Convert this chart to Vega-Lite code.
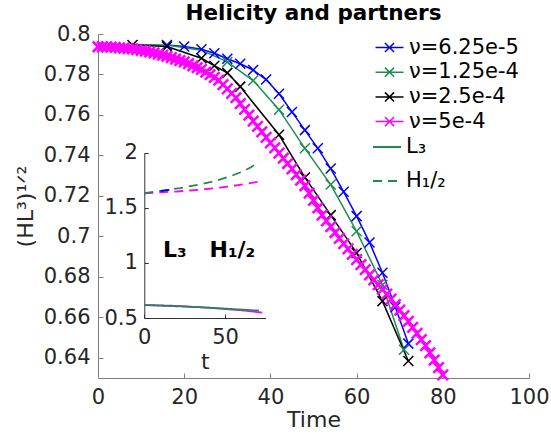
{
  "$schema": "https://vega.github.io/schema/vega-lite/v6.json",
  "width": 431,
  "height": 344,
  "autosize": {"type": "none"},
  "padding": {"left": 98, "top": 34, "right": 22, "bottom": 57},
  "background": "white",
  "config": {"font": "DejaVu Sans", "view": {"stroke": null}, "axis": {"grid": false}},
  "title": {"text": "Helicity and partners", "fontSize": 21.5, "fontWeight": "bold", "color": "black", "anchor": "middle", "baseline": "alphabetic", "offset": 3, "dy": 21},
  "datasets": {
    "main": [
      {"s": "ν=6.25e-5", "t": 16, "v": 0.7946, "m": 1},
      {"s": "ν=6.25e-5", "t": 20, "v": 0.7938, "m": 1},
      {"s": "ν=6.25e-5", "t": 24, "v": 0.7925, "m": 1},
      {"s": "ν=6.25e-5", "t": 27, "v": 0.7905, "m": 1},
      {"s": "ν=6.25e-5", "t": 30, "v": 0.7878, "m": 1},
      {"s": "ν=6.25e-5", "t": 33, "v": 0.7853, "m": 1},
      {"s": "ν=6.25e-5", "t": 36, "v": 0.7822, "m": 1},
      {"s": "ν=6.25e-5", "t": 39, "v": 0.7775, "m": 1},
      {"s": "ν=6.25e-5", "t": 42, "v": 0.7705, "m": 1},
      {"s": "ν=6.25e-5", "t": 45, "v": 0.7615, "m": 1},
      {"s": "ν=6.25e-5", "t": 48, "v": 0.7525, "m": 1},
      {"s": "ν=6.25e-5", "t": 51, "v": 0.7435, "m": 1},
      {"s": "ν=6.25e-5", "t": 54, "v": 0.7335, "m": 1},
      {"s": "ν=6.25e-5", "t": 57, "v": 0.722, "m": 1},
      {"s": "ν=6.25e-5", "t": 60, "v": 0.71, "m": 1},
      {"s": "ν=6.25e-5", "t": 63, "v": 0.697, "m": 1},
      {"s": "ν=6.25e-5", "t": 66, "v": 0.682, "m": 1},
      {"s": "ν=6.25e-5", "t": 69, "v": 0.665, "m": 1},
      {"s": "ν=6.25e-5", "t": 72, "v": 0.647, "m": 1},
      {"s": "ν=1.25e-4", "t": 8, "v": 0.7948, "m": 0},
      {"s": "ν=1.25e-4", "t": 16, "v": 0.7946, "m": 0},
      {"s": "ν=1.25e-4", "t": 24, "v": 0.792, "m": 0},
      {"s": "ν=1.25e-4", "t": 30, "v": 0.7862, "m": 1},
      {"s": "ν=1.25e-4", "t": 36, "v": 0.777, "m": 1},
      {"s": "ν=1.25e-4", "t": 42, "v": 0.7626, "m": 1},
      {"s": "ν=1.25e-4", "t": 48, "v": 0.7435, "m": 1},
      {"s": "ν=1.25e-4", "t": 54, "v": 0.7256, "m": 1},
      {"s": "ν=1.25e-4", "t": 60, "v": 0.7025, "m": 1},
      {"s": "ν=1.25e-4", "t": 66, "v": 0.676, "m": 1},
      {"s": "ν=1.25e-4", "t": 71, "v": 0.644, "m": 1},
      {"s": "ν=2.5e-4", "t": 8, "v": 0.7946, "m": 1},
      {"s": "ν=2.5e-4", "t": 16, "v": 0.7938, "m": 1},
      {"s": "ν=2.5e-4", "t": 24, "v": 0.788, "m": 1},
      {"s": "ν=2.5e-4", "t": 27, "v": 0.7843, "m": 1},
      {"s": "ν=2.5e-4", "t": 30, "v": 0.7808, "m": 1},
      {"s": "ν=2.5e-4", "t": 33, "v": 0.774, "m": 1},
      {"s": "ν=2.5e-4", "t": 42, "v": 0.7502, "m": 1},
      {"s": "ν=2.5e-4", "t": 48, "v": 0.7291, "m": 1},
      {"s": "ν=2.5e-4", "t": 54, "v": 0.7105, "m": 1},
      {"s": "ν=2.5e-4", "t": 60, "v": 0.6918, "m": 1},
      {"s": "ν=2.5e-4", "t": 66, "v": 0.668, "m": 1},
      {"s": "ν=2.5e-4", "t": 72, "v": 0.6384, "m": 1},
      {"s": "ν=5e-4", "t": 0, "v": 0.7937, "m": 1},
      {"s": "ν=5e-4", "t": 1, "v": 0.7937, "m": 1},
      {"s": "ν=5e-4", "t": 2, "v": 0.7936, "m": 1},
      {"s": "ν=5e-4", "t": 3, "v": 0.7935, "m": 1},
      {"s": "ν=5e-4", "t": 4, "v": 0.7934, "m": 1},
      {"s": "ν=5e-4", "t": 5, "v": 0.7932, "m": 1},
      {"s": "ν=5e-4", "t": 6, "v": 0.793, "m": 1},
      {"s": "ν=5e-4", "t": 7, "v": 0.7928, "m": 1},
      {"s": "ν=5e-4", "t": 8, "v": 0.7926, "m": 1},
      {"s": "ν=5e-4", "t": 9, "v": 0.7923, "m": 1},
      {"s": "ν=5e-4", "t": 10, "v": 0.7919, "m": 1},
      {"s": "ν=5e-4", "t": 11, "v": 0.7916, "m": 1},
      {"s": "ν=5e-4", "t": 12, "v": 0.7912, "m": 1},
      {"s": "ν=5e-4", "t": 13, "v": 0.7907, "m": 1},
      {"s": "ν=5e-4", "t": 14, "v": 0.7901, "m": 1},
      {"s": "ν=5e-4", "t": 15, "v": 0.7896, "m": 1},
      {"s": "ν=5e-4", "t": 16, "v": 0.789, "m": 1},
      {"s": "ν=5e-4", "t": 17, "v": 0.7883, "m": 1},
      {"s": "ν=5e-4", "t": 18, "v": 0.7876, "m": 1},
      {"s": "ν=5e-4", "t": 19, "v": 0.7869, "m": 1},
      {"s": "ν=5e-4", "t": 20, "v": 0.7862, "m": 1},
      {"s": "ν=5e-4", "t": 21, "v": 0.7853, "m": 1},
      {"s": "ν=5e-4", "t": 22, "v": 0.7843, "m": 1},
      {"s": "ν=5e-4", "t": 23, "v": 0.7834, "m": 1},
      {"s": "ν=5e-4", "t": 24, "v": 0.7825, "m": 1},
      {"s": "ν=5e-4", "t": 25, "v": 0.7812, "m": 1},
      {"s": "ν=5e-4", "t": 26, "v": 0.7799, "m": 1},
      {"s": "ν=5e-4", "t": 27, "v": 0.7786, "m": 1},
      {"s": "ν=5e-4", "t": 28, "v": 0.7772, "m": 1},
      {"s": "ν=5e-4", "t": 29, "v": 0.775, "m": 1},
      {"s": "ν=5e-4", "t": 30, "v": 0.7729, "m": 1},
      {"s": "ν=5e-4", "t": 31, "v": 0.7707, "m": 1},
      {"s": "ν=5e-4", "t": 32, "v": 0.7685, "m": 1},
      {"s": "ν=5e-4", "t": 33, "v": 0.7656, "m": 1},
      {"s": "ν=5e-4", "t": 34, "v": 0.7628, "m": 1},
      {"s": "ν=5e-4", "t": 35, "v": 0.7599, "m": 1},
      {"s": "ν=5e-4", "t": 36, "v": 0.757, "m": 1},
      {"s": "ν=5e-4", "t": 37, "v": 0.7543, "m": 1},
      {"s": "ν=5e-4", "t": 38, "v": 0.7516, "m": 1},
      {"s": "ν=5e-4", "t": 39, "v": 0.7489, "m": 1},
      {"s": "ν=5e-4", "t": 40, "v": 0.7462, "m": 1},
      {"s": "ν=5e-4", "t": 41, "v": 0.7437, "m": 1},
      {"s": "ν=5e-4", "t": 42, "v": 0.7411, "m": 1},
      {"s": "ν=5e-4", "t": 43, "v": 0.7386, "m": 1},
      {"s": "ν=5e-4", "t": 44, "v": 0.736, "m": 1},
      {"s": "ν=5e-4", "t": 45, "v": 0.7333, "m": 1},
      {"s": "ν=5e-4", "t": 46, "v": 0.7305, "m": 1},
      {"s": "ν=5e-4", "t": 47, "v": 0.7278, "m": 1},
      {"s": "ν=5e-4", "t": 48, "v": 0.725, "m": 1},
      {"s": "ν=5e-4", "t": 49, "v": 0.7214, "m": 1},
      {"s": "ν=5e-4", "t": 50, "v": 0.7178, "m": 1},
      {"s": "ν=5e-4", "t": 51, "v": 0.7141, "m": 1},
      {"s": "ν=5e-4", "t": 52, "v": 0.7105, "m": 1},
      {"s": "ν=5e-4", "t": 53, "v": 0.7076, "m": 1},
      {"s": "ν=5e-4", "t": 54, "v": 0.7048, "m": 1},
      {"s": "ν=5e-4", "t": 55, "v": 0.7019, "m": 1},
      {"s": "ν=5e-4", "t": 56, "v": 0.699, "m": 1},
      {"s": "ν=5e-4", "t": 57, "v": 0.6964, "m": 1},
      {"s": "ν=5e-4", "t": 58, "v": 0.6938, "m": 1},
      {"s": "ν=5e-4", "t": 59, "v": 0.6911, "m": 1},
      {"s": "ν=5e-4", "t": 60, "v": 0.6885, "m": 1},
      {"s": "ν=5e-4", "t": 61, "v": 0.686, "m": 1},
      {"s": "ν=5e-4", "t": 62, "v": 0.6835, "m": 1},
      {"s": "ν=5e-4", "t": 63, "v": 0.681, "m": 1},
      {"s": "ν=5e-4", "t": 64, "v": 0.6785, "m": 1},
      {"s": "ν=5e-4", "t": 65, "v": 0.6761, "m": 1},
      {"s": "ν=5e-4", "t": 66, "v": 0.6738, "m": 1},
      {"s": "ν=5e-4", "t": 67, "v": 0.6714, "m": 1},
      {"s": "ν=5e-4", "t": 68, "v": 0.669, "m": 1},
      {"s": "ν=5e-4", "t": 69, "v": 0.6663, "m": 1},
      {"s": "ν=5e-4", "t": 70, "v": 0.6635, "m": 1},
      {"s": "ν=5e-4", "t": 71, "v": 0.6608, "m": 1},
      {"s": "ν=5e-4", "t": 72, "v": 0.658, "m": 1},
      {"s": "ν=5e-4", "t": 73, "v": 0.655, "m": 1},
      {"s": "ν=5e-4", "t": 74, "v": 0.652, "m": 1},
      {"s": "ν=5e-4", "t": 75, "v": 0.649, "m": 1},
      {"s": "ν=5e-4", "t": 76, "v": 0.646, "m": 1},
      {"s": "ν=5e-4", "t": 77, "v": 0.6424, "m": 1},
      {"s": "ν=5e-4", "t": 78, "v": 0.6388, "m": 1},
      {"s": "ν=5e-4", "t": 79, "v": 0.6351, "m": 1},
      {"s": "ν=5e-4", "t": 80, "v": 0.6315, "m": 1}
    ],
    "inset": [
      {"s": "ν=5e-4", "k": "H₁/₂", "t": 0, "v": 1.632},
      {"s": "ν=5e-4", "k": "H₁/₂", "t": 10, "v": 1.64},
      {"s": "ν=5e-4", "k": "H₁/₂", "t": 20, "v": 1.648},
      {"s": "ν=5e-4", "k": "H₁/₂", "t": 35, "v": 1.665},
      {"s": "ν=5e-4", "k": "H₁/₂", "t": 53, "v": 1.694},
      {"s": "ν=5e-4", "k": "H₁/₂", "t": 71, "v": 1.738},
      {"s": "ν=5e-4", "k": "L₃", "t": 0, "v": 0.618},
      {"s": "ν=5e-4", "k": "L₃", "t": 20, "v": 0.61},
      {"s": "ν=5e-4", "k": "L₃", "t": 40, "v": 0.593},
      {"s": "ν=5e-4", "k": "L₃", "t": 60, "v": 0.57},
      {"s": "ν=5e-4", "k": "L₃", "t": 73, "v": 0.549},
      {"s": "ν=1.25e-4", "k": "H₁/₂", "t": 0, "v": 1.632},
      {"s": "ν=1.25e-4", "k": "H₁/₂", "t": 11, "v": 1.655},
      {"s": "ν=1.25e-4", "k": "H₁/₂", "t": 22, "v": 1.679},
      {"s": "ν=1.25e-4", "k": "H₁/₂", "t": 33, "v": 1.709},
      {"s": "ν=1.25e-4", "k": "H₁/₂", "t": 43, "v": 1.74},
      {"s": "ν=1.25e-4", "k": "H₁/₂", "t": 53, "v": 1.785},
      {"s": "ν=1.25e-4", "k": "H₁/₂", "t": 61, "v": 1.83},
      {"s": "ν=1.25e-4", "k": "H₁/₂", "t": 66, "v": 1.868},
      {"s": "ν=1.25e-4", "k": "H₁/₂", "t": 71, "v": 1.918},
      {"s": "ν=1.25e-4", "k": "L₃", "t": 0, "v": 0.618},
      {"s": "ν=1.25e-4", "k": "L₃", "t": 36, "v": 0.597},
      {"s": "ν=1.25e-4", "k": "L₃", "t": 71, "v": 0.567},
      {"s": "ν=6.25e-5", "k": "H₁/₂", "t": 10, "v": 1.652},
      {"s": "ν=6.25e-5", "k": "H₁/₂", "t": 16, "v": 1.664}
    ]
  },
  "layer": [
    {
      "data": {"name": "main"},
      "encoding": {
        "x": {"field": "t", "type": "quantitative",
          "scale": {"domain": [0, 100], "nice": false, "zero": false},
          "axis": {"orient": "bottom", "values": [0, 20, 40, 60, 80, 100], "title": "Time",
            "titleFontSize": 22, "titleFontWeight": "normal", "titleColor": "#262626", "titlePadding": 2,
            "labelFontSize": 21, "labelColor": "#262626", "labelPadding": 13, "labelFlush": false, "labelOverlap": false,
            "tickSize": -5, "tickColor": "#808080", "domainColor": "#808080"}},
        "y": {"field": "v", "type": "quantitative",
          "scale": {"domain": [0.63, 0.8], "nice": false, "zero": false},
          "axis": {"orient": "left", "values": [0.64, 0.66, 0.68, 0.7, 0.72, 0.74, 0.76, 0.78, 0.8], "format": ".2~f",
            "title": "(HL³)¹ᐟ²", "titleFontSize": 22, "titleFontWeight": "normal", "titleColor": "#262626", "titlePadding": 6,
            "labelFontSize": 21, "labelColor": "#262626", "labelPadding": 13, "labelFlush": false, "labelOverlap": false,
            "tickSize": -5, "tickColor": "#808080", "domainColor": "#808080"}},
        "color": {"field": "s", "type": "nominal",
          "scale": {"domain": ["ν=6.25e-5", "ν=1.25e-4", "ν=2.5e-4", "ν=5e-4"], "range": ["#0000ff", "#1e8c50", "#000000", "#ff00ff"]},
          "legend": {"orient": "none", "legendX": 281, "legendY": 3, "title": null, "padding": 0,
            "symbolType": "M-2,0H2M-0.65,-0.65L0.65,0.65M-0.65,0.65L0.65,-0.65", "symbolSize": 196,
            "symbolStrokeWidth": 1.5, "symbolFillColor": "transparent",
            "labelFontSize": 21, "labelColor": "black", "labelOffset": 9, "rowPadding": 2.7, "labelLimit": 300}}
      },
      "layer": [
        {"mark": {"type": "line", "strokeWidth": 1.5}},
        {"transform": [{"filter": "datum.m == 1 && datum.s != 'ν=5e-4'"}],
          "mark": {"type": "point", "shape": "M-1,-1L1,1M-1,1L1,-1", "filled": false, "size": 100, "opacity": 1, "strokeWidth": 1.5}},
        {"transform": [{"filter": "datum.s == 'ν=5e-4'"}],
          "mark": {"type": "point", "shape": "M-1,-1L1,1M-1,1L1,-1", "filled": false, "size": 110, "opacity": 1, "strokeWidth": 2.5}}
      ]
    },
    {
      "data": {"name": "inset"},
      "encoding": {
        "x": {"field": "t", "type": "quantitative",
          "scale": {"domain": [0, 75], "range": [46.3, 167.5], "nice": false, "zero": false},
          "axis": {"orient": "bottom", "offset": -60, "values": [0, 50], "title": "t",
            "titleFontSize": 22, "titleFontWeight": "normal", "titleColor": "#262626", "titlePadding": 4,
            "labelFontSize": 21, "labelColor": "#262626", "labelPadding": 12, "labelFlush": false, "labelOverlap": false,
            "tickSize": -4, "tickColor": "#333333", "domainColor": "#333333"}},
        "y": {"field": "v", "type": "quantitative",
          "scale": {"domain": [0.5, 2], "range": [284, 118.7], "nice": false, "zero": false},
          "axis": {"orient": "left", "offset": -46.3, "values": [0.5, 1, 1.5, 2], "format": "~g", "title": null,
            "labelFontSize": 21, "labelColor": "#262626", "labelPadding": 11, "labelFlush": false, "labelOverlap": false,
            "tickSize": -4, "tickColor": "#333333", "domainColor": "#333333"}}
      },
      "layer": [
        {"mark": {"type": "line", "strokeWidth": 1.8},
          "encoding": {
            "color": {"field": "s", "type": "nominal"},
            "strokeDash": {"field": "k", "type": "nominal",
              "scale": {"domain": ["L₃", "H₁/₂"], "range": [[1, 0], [9, 6]]},
              "legend": {"orient": "none", "legendX": 274, "legendY": 98, "title": null, "padding": 0,
                "symbolType": "stroke", "symbolSize": 784, "symbolStrokeColor": "#1e8c50", "symbolStrokeWidth": 1.8,
                "labelFontSize": 21, "labelColor": "black", "labelOffset": 4, "rowPadding": 9}}
          }},
        {"transform": [{"filter": "datum.t == 0 && datum.k == 'L₃' && datum.s == 'ν=1.25e-4'"}],
          "mark": {"type": "text", "fontWeight": "bold", "fontSize": 22, "align": "left", "baseline": "middle", "fill": "black", "opacity": 1},
          "encoding": {"x": {"datum": 11.5, "type": "quantitative"}, "y": {"datum": 1.12, "type": "quantitative"}, "text": {"value": "L₃\u00a0\u00a0\u00a0H₁/₂"}}}
      ]
    }
  ],
  "resolve": {"scale": {"x": "independent", "y": "independent"}}
}
